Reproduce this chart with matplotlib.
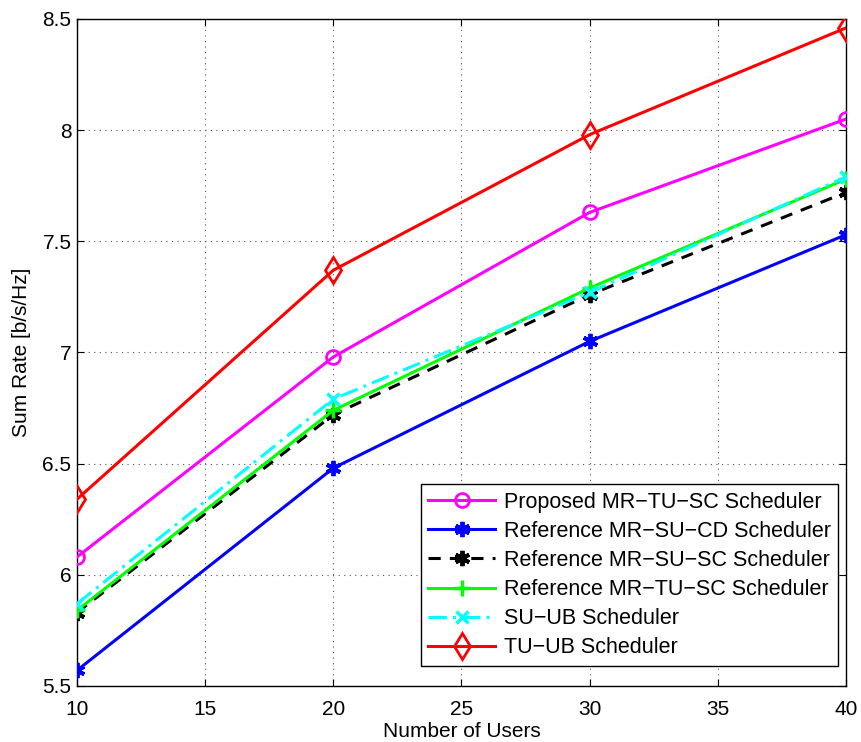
import matplotlib
matplotlib.use("Agg")
import matplotlib.pyplot as plt

plt.rcParams['font.family'] = ['Liberation Sans', 'DejaVu Sans']

users = [10, 20, 30, 40]
proposed_mr_tu_sc = [6.08, 6.98, 7.63, 8.05]
ref_mr_su_cd = [5.57, 6.48, 7.05, 7.53]
ref_mr_su_sc = [5.83, 6.72, 7.26, 7.72]
ref_mr_tu_sc = [5.84, 6.74, 7.29, 7.78]
su_ub = [5.87, 6.79, 7.27, 7.79]
tu_ub = [6.34, 7.37, 7.98, 8.46]

labels = ["Proposed MR\u2212TU\u2212SC Scheduler",
          "Reference MR\u2212SU\u2212CD Scheduler",
          "Reference MR\u2212SU\u2212SC Scheduler",
          "Reference MR\u2212TU\u2212SC Scheduler",
          "SU\u2212UB Scheduler",
          "TU\u2212UB Scheduler"]

fs = 15

fig = plt.figure(figsize=(8.61, 7.42), dpi=100)
ax = fig.add_axes([0.0894, 0.0755, 0.8932, 0.8989])

asterisk = (6, 2, 0)
ax.plot(users, proposed_mr_tu_sc, color='#ff00ff', lw=2.2, marker='o', ms=10,
        mfc='none', mew=2, label=labels[0], zorder=3)
ax.plot(users, ref_mr_su_cd, color='#0000ff', lw=2.2, marker=asterisk, ms=11,
        mew=2.8, label=labels[1], zorder=3)
ax.plot(users, ref_mr_su_sc, color='black', lw=2.2, ls=(0, (4, 3)), marker=asterisk, ms=11,
        mew=2.8, label=labels[2], zorder=3)
ax.plot(users, ref_mr_tu_sc, color='#00ff00', lw=2.2, marker='+', ms=12,
        mew=2.5, label=labels[3], zorder=3)
ax.plot(users, su_ub, color='#00ffff', lw=2.2, ls=(0, (6, 2, 1, 2)), marker='x', ms=9,
        mew=2.5, label=labels[4], zorder=3)
ax.plot(users, tu_ub, color='#ff0000', lw=2.2, marker='d', ms=13,
        mfc='none', mew=2, label=labels[5], zorder=3)

ax.set_xlim(10, 40)
ax.set_ylim(5.5, 8.5)
ax.set_xticks([10, 15, 20, 25, 30, 35, 40])
ax.set_yticks([5.5, 6, 6.5, 7, 7.5, 8, 8.5])
ax.set_yticklabels(['5.5', '6', '6.5', '7', '7.5', '8', '8.5'])
ax.grid(True, ls=(0, (1, 4)), color='#555555', lw=0.8)
ax.tick_params(direction='in', length=5, labelsize=fs, top=True, right=True)
ax.tick_params(axis='x', pad=10)
ax.tick_params(axis='y', pad=4)
for s in ax.spines.values():
    s.set_linewidth(1.0)
ax.set_xlabel('Number of Users', fontsize=fs, labelpad=2)
ax.set_ylabel('Sum Rate [b/s/Hz]', fontsize=fs, labelpad=8)

leg = ax.legend(loc='lower right', bbox_to_anchor=(0.99, 0.03), fontsize=15.5,
                handlelength=3.1, fancybox=False, framealpha=1, edgecolor='black',
                borderpad=0.35, labelspacing=0.38, handletextpad=0.4, borderaxespad=0)
leg.get_frame().set_linewidth(1.0)

fig.savefig('out.png', dpi=100)
